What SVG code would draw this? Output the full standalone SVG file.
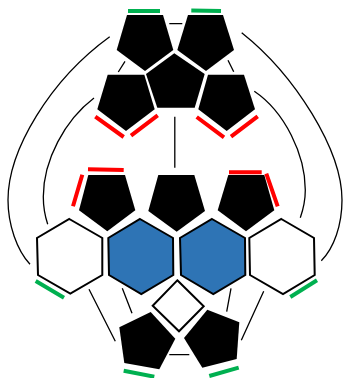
<svg xmlns="http://www.w3.org/2000/svg" width="343" height="378" viewBox="0 0 343 378">
<style>
.p{fill:#000}
.h{fill:#fff;stroke:#000;stroke-width:2;stroke-linejoin:miter}
.b{fill:#2e74b5}
.r{stroke:#ff0000;stroke-width:4;fill:none}
.g{stroke:#00b050;stroke-width:4;fill:none}
.c{stroke:#000;stroke-width:1.3;fill:none}
</style>
<rect width="343" height="378" fill="#fff"/>
<g id="connectors">
<path class="c" d="M169.3 23.7H182.3M125 61.3L118.3 72M228 60.3L233.7 71.7M174.8 116.7V167.7"/>
<path class="c" d="M109.7 36.7C50 80 8 150 8 200C8 225 17 250 30 264.3"/>
<path class="c" d="M94 98C65 120 43.3 160 43.3 196.7C43.3 206 45 216 47.7 224.3"/>
<path class="c" d="M241.7 32.7C295 75 342 150 342 200C342 225 334 248 321.3 260.7"/>
<path class="c" d="M254.3 91.3C285 112 305.3 155 305.3 190C305.3 200 303 210 300.3 217.7"/>
<path class="c" d="M89 289.3L115.3 341.3M122.3 288.3L132 313.3M231 288.3L226.7 311.7M263.7 291.3L241.3 340.3M169.3 354.7H189.3"/>
</g>
<g id="top-left"><polygon class="p" points="127,15 163,15 173.3,50 145,71 116.7,50"/><path class="g" d="M128 11H160"/></g>
<g id="top-right"><polygon class="p" points="188,15 223,15 234,50 206,71 177.3,50"/><path class="g" d="M191.3 10.5L221 11"/></g>
<g id="top-center"><polygon class="p" points="174.3,53.3 204.7,74 194.7,107.7 157.3,107.7 146,74"/></g>
<g id="upper-left"><polygon class="p" points="107.7,74.7 144.3,74.7 154.7,109.3 126,131 97.3,109.3"/><path class="r" d="M95.3 116.7L123.7 137M157.7 115.3L131 135.7"/></g>
<g id="upper-right"><polygon class="p" points="208,74.7 244,74.7 255,109.3 226.7,131 198.3,109.3"/><path class="r" d="M196.7 117L224 137.3M257.7 116.3L231 136.7"/></g>
<g id="mid-left"><polygon class="p" points="88.3,175 125,175 135.3,210.3 107.3,231.3 79,210.3"/><path class="r" d="M88 169.3L123.7 170M82.3 174.7L73 206.3"/></g>
<g id="mid-center"><polygon class="p" points="158.3,175 194.3,175 205,211 176.7,231.7 148.3,211"/></g>
<g id="mid-right"><polygon class="p" points="228.3,175 264.3,175 274.3,210.3 246,231.3 217.7,210.3"/><path class="r" d="M229 172.3H261.7M266.3 173.7L277.7 206.3"/></g>
<g id="hex-left"><polygon class="h" points="69.3,219 102.3,238 102.3,275 70.3,293.7 38,275 37,238"/><path class="g" d="M35.7 281L64 297.7"/></g>
<g id="hex-blue-left"><polygon class="h b" points="140,219 173,238 173.3,275 141.3,294 109,275 108.3,238"/></g>
<g id="hex-blue-right"><polygon class="h b" points="212,219 245,238 245.3,275 213.3,294 181,275 180,238"/></g>
<g id="hex-right"><polygon class="h" points="281.3,219 314,238 314.7,275 283,294 250,275 249.3,238"/><path class="g" d="M290.3 297L317 280.3"/></g>
<g id="diamond"><polygon class="h" points="177.3,280.3 203.7,306.3 179,331.3 152.7,305.7"/></g>
<g id="bottom-left"><polygon class="p" points="150.7,312 175.3,338.7 159.3,369.3 124.3,363 119.3,327.3"/><path class="g" d="M123.7 370.7L154.3 376.7"/></g>
<g id="bottom-right"><polygon class="p" points="207.3,309.7 239.3,322.3 236.7,359 202.3,367.7 184,338"/><path class="g" d="M209.3 376L238.7 367.7"/></g>
</svg>
